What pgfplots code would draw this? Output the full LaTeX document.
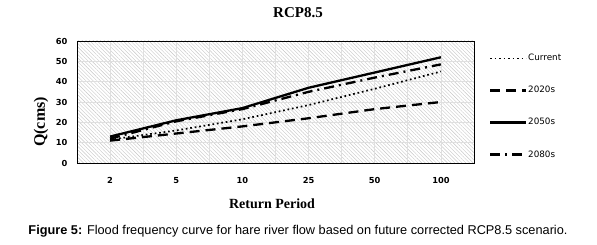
\documentclass[border=0pt]{standalone}
\usepackage{pgfplots}
\pgfplotsset{compat=1.18}
\usepackage{fontspec}
\setmainfont{Liberation Serif}
\newfontfamily\arial{Liberation Sans}
\newfontfamily\dejavu{DejaVu Sans}
\usetikzlibrary{patterns.meta}
\begin{document}
\begin{tikzpicture}
\useasboundingbox (0pt,0pt) rectangle (597pt,245pt);
\begin{axis}[
  at={(77pt,82pt)}, anchor=south west,
  scale only axis, width=397pt, height=122pt,
  xmin=-0.5, xmax=5.5, ymin=0, ymax=60,
  xtick={0,1,2,3,4,5}, xticklabels={2,5,10,25,50,100},
  minor xtick={0.5,1.5,2.5,3.5,4.5},
  ytick={0,10,...,60},
  major tick length=0pt, minor tick length=0pt,
  grid=both,
  major grid style={gray!25, line width=0.8pt},
  minor grid style={gray!25, line width=0.8pt},
  axis line style={black, line width=0.8pt},
  axis background/.style={pattern={Lines[angle=-45,distance=2.6pt,line width=0.4pt]}, pattern color=gray!45},
  tick label style={font=\dejavu\bfseries\fontsize{8.3}{9}\selectfont},
  /pgf/number format/assume math mode=true,
  xticklabel style={yshift=-11pt},
  yticklabel style={xshift=-6pt},
  legend style={at={(1.037,0.9)}, anchor=north west, draw=none, fill=none,
    font=\dejavu\fontsize{8.8}{10}\selectfont, row sep=22pt, inner sep=0pt,
    nodes={inner sep=1pt}},
  legend cell align=left,
  legend image code/.code={\draw[#1] (0pt,0pt) -- (36pt,0pt);},
  clip=false,
]
\addplot[black, line width=1.7pt, dash pattern=on 1.7pt off 2.8pt] coordinates {(0,11.5) (1,16) (2,21.5) (3,28.5) (4,36.5) (5,45)};
\addlegendentry{Current}
\addplot[black, line width=2.3pt, dash pattern=on 10pt off 6pt] coordinates {(0,11) (1,14.5) (2,18) (3,22) (4,26.5) (5,30)};
\addlegendentry{2020s}
\addplot[black, line width=2.3pt] coordinates {(0,13) (1,21) (2,27) (3,37) (4,44.5) (5,52)};
\addlegendentry{2050s}
\addplot[black, line width=2.3pt, dash pattern=on 10pt off 5pt on 2pt off 5pt] coordinates {(0,12) (1,20.5) (2,26.5) (3,35) (4,42) (5,48.5)};
\addlegendentry{2080s}
\end{axis}
\node[font=\bfseries\fontsize{15}{17}\selectfont] at (298pt,232pt) {RCP8.5};
\node[font=\bfseries\fontsize{16}{18}\selectfont, rotate=90] at (41pt,123pt) {Q(cms)};
\node[font=\bfseries\fontsize{14}{16}\selectfont] at (272pt,41pt) {Return Period};
\node[font=\arial\fontsize{12.75}{15}\selectfont] at (298pt,14pt) {\textbf{Figure 5:} Flood frequency curve for hare river flow based on future corrected RCP8.5 scenario.};
\end{tikzpicture}
\end{document}
